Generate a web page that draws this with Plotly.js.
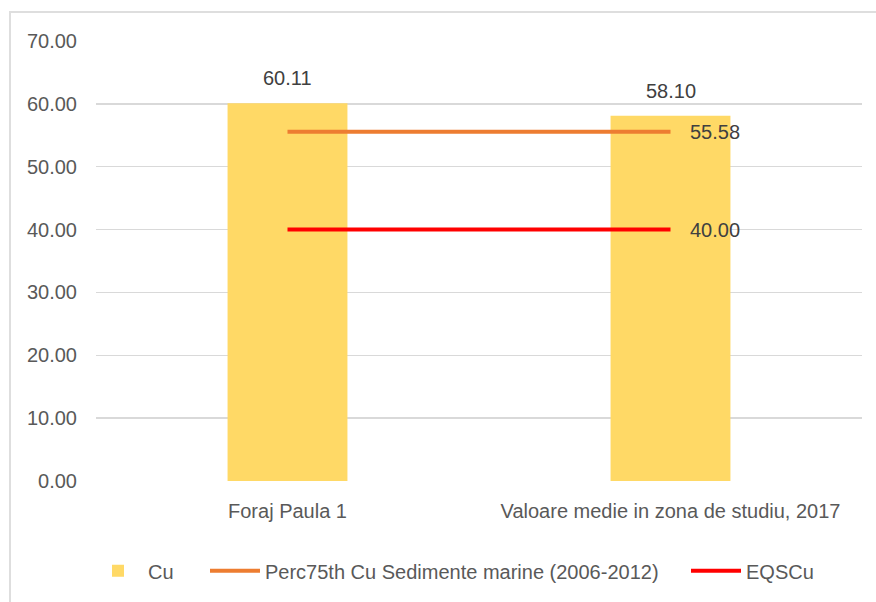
<!DOCTYPE html>
<html>
<head>
<meta charset="utf-8">
<script src="https://cdn.plot.ly/plotly-3.0.1.min.js"></script>
<style>
  body { margin: 0; background: #fff; }
  #plot { width: 876px; height: 602px; position: absolute; left: 0; top: 0; }
  #frame { position: absolute; left: 9px; top: 11px; width: 900px; height: 700px;
           border: 2px solid #dedede; pointer-events: none; }
</style>
</head>
<body>
<div id="plot"></div>
<div id="frame"></div>
<script>
const categories = ['Foraj Paula 1', 'Valoare medie in zona de studiu, 2017']
const cuValues = [60.11, 58.10]
const perc75Values = [55.58, 55.58]
const eqsValues = [40.00, 40.00]

const font = 'Liberation Sans, Arial, sans-serif'
const gray = '#595959'
const labelColor = '#404040'

const bars = {
    x: categories,
    y: cuValues,
    type: 'bar',
    name: 'Cu',
    legend: 'legend',
    marker: { color: '#FFD966' }
}

const perc75 = {
    x: categories,
    y: perc75Values,
    type: 'scatter',
    mode: 'lines',
    name: 'Perc75th Cu Sedimente marine (2006-2012)',
    legend: 'legend2',
    line: { color: '#ED7D31', width: 4 }
}

const eqs = {
    x: categories,
    y: eqsValues,
    type: 'scatter',
    mode: 'lines',
    name: 'EQSCu',
    legend: 'legend3',
    line: { color: '#FF0000', width: 4 }
}

// value labels, placed at the data points
const annotations = []
categories.forEach(function (c, i) {
    annotations.push({
        x: c, y: cuValues[i], text: cuValues[i].toFixed(2),
        showarrow: false, yanchor: 'bottom', yshift: 12,
        font: { family: font, size: 20, color: labelColor }
    })
})
annotations.push({
    x: categories[1], y: perc75Values[1], text: perc75Values[1].toFixed(2),
    showarrow: false, xanchor: 'left', xshift: 17,
    font: { family: font, size: 20, color: labelColor }
})
annotations.push({
    x: categories[1], y: eqsValues[1], text: eqsValues[1].toFixed(2),
    showarrow: false, xanchor: 'left', xshift: 17,
    font: { family: font, size: 20, color: labelColor }
})

const legendBase = {
    orientation: 'h',
    y: -0.204,
    yanchor: 'middle',
    xanchor: 'left',
    itemwidth: 50,
    font: { family: font, size: 20, color: gray },
    bgcolor: 'rgba(0,0,0,0)'
}

const layout = {
    width: 876,
    height: 602,
    margin: { l: 96, r: 14, t: 41, b: 119 },
    paper_bgcolor: 'rgba(0,0,0,0)',
    plot_bgcolor: '#fff',
    font: { family: font, size: 20, color: gray },
    bargap: 0.687,
    showlegend: true,
    legend: { ...legendBase, x: (88 - 96) / 766 },
    legend2: { ...legendBase, x: (205 - 96) / 766 },
    legend3: { ...legendBase, x: (686 - 96) / 766 },
    annotations: annotations,
    xaxis: {
        type: 'category',
        showgrid: false,
        showline: false,
        zeroline: false,
        ticks: '',
        ticklabelstandoff: 16,
        tickfont: { family: font, size: 20, color: gray }
    },
    yaxis: {
        range: [0, 70],
        dtick: 10,
        tickformat: '.2f',
        showgrid: true,
        gridcolor: '#d9d9d9',
        gridwidth: 1.5,
        zeroline: false,
        showline: false,
        ticks: '',
        ticklabelstandoff: 18,
        tickfont: { family: font, size: 20, color: gray }
    }
}

Plotly.newPlot('plot', [bars, perc75, eqs], layout, { displayModeBar: false, staticPlot: true })
</script>
</body>
</html>
